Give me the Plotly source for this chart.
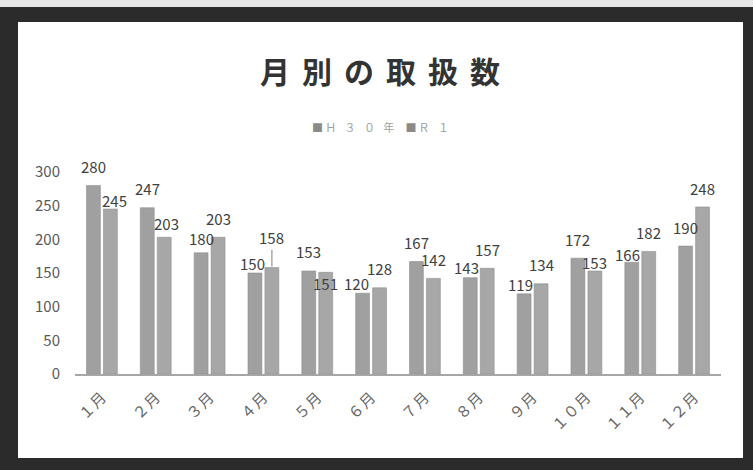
import plotly.graph_objects as go

# Monthly handling counts for two fiscal years
months = ["１月", "２月", "３月", "４月", "５月", "６月", "７月", "８月", "９月", "１０月", "１１月", "１２月"]
series_names = ["Ｈ３０年", "Ｒ１"]
h30 = [280, 247, 180, 150, 153, 120, 167, 143, 119, 172, 166, 190]
r1 = [245, 203, 203, 158, 151, 128, 142, 157, 134, 153, 182, 248]
y_ticks = [0, 50, 100, 150, 200, 250, 300]

W, H = 753, 470
FONT = "Noto Sans CJK JP"
BAR_COLORS = ["#a0a0a0", "#a7a7a7"]
LABEL_LIFT = 19          # default px between bar top and label centre
BAR_OFFSET = 8.5         # px from category centre to each bar's centre

# Hand-placed label nudges (series index, month index) -> (dx, dy) in px
label_nudges = {
    (0, 2): (0, 14), (0, 3): (-2, 10), (0, 5): (-6, 10), (0, 7): (-4, 10),
    (0, 8): (-4, 9), (0, 10): (-4, 8),
    (1, 0): (4, 9), (1, 1): (2, 14), (1, 3): (0, 30), (1, 4): (0, -11), (1, 9): (0, 8),
}


def spaced(text, gap):
    """Insert a fixed gap between characters (wide letter spacing)."""
    return gap.join(text)


fig = go.Figure()
for name, vals, col in zip(series_names, [h30, r1], BAR_COLORS):
    fig.add_trace(go.Bar(
        x=months, y=vals, name=name,
        marker=dict(color=col, line=dict(color="#8e8e8e", width=0.6)),
        cliponaxis=False, showlegend=False,
    ))

# Value labels above each bar
for si, vals in enumerate([h30, r1]):
    side = -1 if si == 0 else 1
    for mi, (m, v) in enumerate(zip(months, vals)):
        dx, dy = label_nudges.get((si, mi), (0, LABEL_LIFT))
        font = dict(family=FONT, size=15, color="#404040")
        if dy > 25:
            # raised label with a short leader line down to the bar
            fig.add_annotation(
                x=m, y=v, xref="x", yref="y", text=str(v),
                showarrow=True, arrowhead=0, arrowwidth=1, arrowcolor="#7f7f7f",
                ax=dx, ay=-dy, xshift=side * BAR_OFFSET, standoff=1, font=font,
            )
        else:
            fig.add_annotation(
                x=m, y=v, xref="x", yref="y", text=str(v), showarrow=False,
                xshift=side * BAR_OFFSET + dx, yshift=dy, yanchor="middle", font=font,
            )

# Frame: dark border around a white chart area
px = lambda x: (x - 75) / 646
py = lambda y: (374 - y) / 202

# Legend line drawn as text with coloured squares
legend_gap = "\u2002\u2009\u200a"
legend_text = "\u2003".join(
    f"<span style='color:#8a8a8a'>■</span>\u2009{spaced(n, legend_gap)}" for n in series_names
)
fig.add_annotation(x=px(380), y=py(127), xref="paper", yref="paper",
                   text=legend_text, showarrow=False, xanchor="center", yanchor="middle",
                   font=dict(family=FONT, size=11, color="#a0a0a0"))

fig.add_shape(type="rect", xref="paper", yref="paper",
              x0=px(0), x1=px(753), y0=py(7), y1=py(0),
              fillcolor="#e6e6e6", line=dict(width=0), layer="below")
fig.add_shape(type="rect", xref="paper", yref="paper",
              x0=px(18), x1=px(743), y0=py(458), y1=py(22),
              fillcolor="#ffffff", line=dict(width=0), layer="below")

title_text = spaced("月別の取扱数", "\u2009\u2009")
tick_text = [spaced(m, "\u200a") for m in months]
fig.update_layout(
    width=W, height=H,
    margin=dict(l=75, r=32, t=172, b=96),
    paper_bgcolor="#2b2b2b",
    plot_bgcolor="rgba(0,0,0,0)",
    barmode="group", bargap=0.37, bargroupgap=0.18,
    title=dict(text=f"<b>{title_text}</b>", x=380 / W, xref="container", xanchor="center",
               y=1 - 72 / H, yanchor="middle",
               font=dict(family=FONT, size=30, color="#333333")),
    showlegend=False,
    font=dict(family=FONT),
)
fig.update_yaxes(range=[0, 300], tickvals=y_ticks, showgrid=False, zeroline=False,
                 showline=False, ticks="", ticklabelstandoff=14,
                 tickfont=dict(family=FONT, size=15, color="#595959"))
fig.update_xaxes(showline=True, linecolor="#a6a6a6", linewidth=1.5, showgrid=False,
                 ticks="", tickangle=-45, ticklabelstandoff=7,
                 tickvals=months, ticktext=tick_text,
                 tickfont=dict(family=FONT, size=15, color="#666666"))

fig.write_html("out.html")
